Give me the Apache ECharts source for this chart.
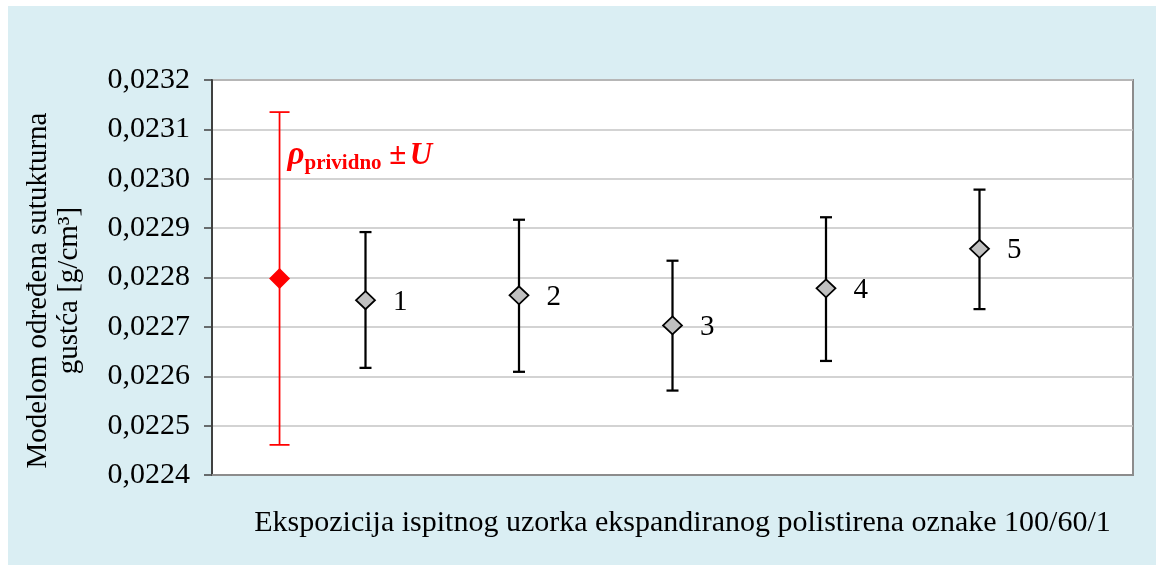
<!DOCTYPE html>
<html>
<head>
<meta charset="utf-8">
<script src="https://cdn.jsdelivr.net/npm/echarts@6/dist/echarts.min.js"></script>
<style>
  html, body { margin: 0; padding: 0; background: #ffffff; }
  #wrap { position: relative; width: 1156px; height: 565px; background: #ffffff; }
  #chart { position: absolute; left: 8px; top: 6px; width: 1148px; height: 559px; background: #DAEEF3; }
</style>
</head>
<body>
<div id="wrap"><div id="chart"></div></div>
<script>
// Sample exposures (x position on the hidden value axis) and their labels
const samplePos = [1, 2, 3, 4, 5];
const sampleLabels = ['1', '2', '3', '4', '5'];
// Model-determined structural density per exposure [g/cm3]
const sampleMean = [0.022754, 0.022764, 0.022703, 0.022778, 0.022858];
const sampleLow  = [0.022617, 0.022609, 0.022571, 0.022631, 0.022736];
const sampleHigh = [0.022892, 0.022917, 0.022834, 0.022922, 0.022978];

// Apparent density with its expanded uncertainty
const refPos = 0.44;
const refMean = 0.022798;
const refU = 0.000337;

// Y-axis range and tick step
const yMin = 0.0224;
const yMax = 0.0232;
const yStep = 0.0001;

const FONT = '"Liberation Serif", "Times New Roman", serif';

const chart = echarts.init(document.getElementById('chart'), null, { renderer: 'canvas' });

function errorBarRenderer(color, lineW, capW) {
  return function (params, api) {
    const x = api.value(0);
    const top = api.coord([x, api.value(2)]);
    const bot = api.coord([x, api.value(1)]);
    const style = { stroke: color, lineWidth: lineW };
    return {
      type: 'group',
      children: [
        { type: 'line', shape: { x1: top[0], y1: top[1], x2: bot[0], y2: bot[1] }, style },
        { type: 'line', shape: { x1: top[0] - capW / 2, y1: top[1], x2: top[0] + capW / 2, y2: top[1] }, style },
        { type: 'line', shape: { x1: bot[0] - capW / 2, y1: bot[1], x2: bot[0] + capW / 2, y2: bot[1] }, style }
      ]
    };
  };
}

const sampleBars = samplePos.map((x, i) => [x, sampleLow[i], sampleHigh[i]]);
const samplePoints = samplePos.map((x, i) => ({ value: [x, sampleMean[i]], name: sampleLabels[i] }));

chart.setOption({
  backgroundColor: 'transparent',
  animation: false,
  grid: {
    left: 204, top: 74, right: 23, bottom: 90,
    show: true,
    backgroundColor: '#ffffff',
    borderColor: '#8C8C8C',
    borderWidth: 2
  },
  xAxis: {
    type: 'value',
    min: 0, max: 6,
    name: 'Ekspozicija ispitnog uzorka ekspandiranog polistirena oznake 100/60/1',
    nameLocation: 'middle',
    nameGap: 33,
    nameTextStyle: { fontFamily: FONT, fontSize: 30, color: '#000', padding: [0, 0, 0, 20] },
    axisLine: { show: true, lineStyle: { color: '#8C8C8C', width: 2 } },
    axisTick: { show: false },
    axisLabel: { show: false },
    splitLine: { show: false }
  },
  yAxis: {
    type: 'value',
    min: yMin, max: yMax, interval: yStep,
    name: 'Modelom određena sutukturna\ngustća [g/cm³]',
    nameLocation: 'middle',
    nameRotate: 90,
    nameGap: 127,
    nameTextStyle: { fontFamily: FONT, fontSize: 29, color: '#000', lineHeight: 31, align: 'center', padding: [0, 0, 0, -26] },
    axisLine: { show: true, lineStyle: { color: '#404040', width: 2 } },
    axisTick: { show: true, inside: false, length: 8, lineStyle: { color: '#404040', width: 1.5 } },
    axisLabel: {
      fontFamily: FONT, fontSize: 30, color: '#000', margin: 22,
      formatter: v => v.toFixed(4).replace('.', ',')
    },
    splitLine: { show: true, lineStyle: { color: '#C4C4C4', width: 1.5 } }
  },
  series: [
    {
      type: 'custom',
      name: 'ref-bar',
      renderItem: errorBarRenderer('#FF0000', 1.75, 20),
      data: [[refPos, refMean - refU, refMean + refU]],
      encode: { x: 0, y: [1, 2] },
      z: 2
    },
    {
      type: 'scatter',
      name: 'ref',
      data: [[refPos, refMean]],
      symbol: 'diamond',
      symbolSize: [21, 21],
      itemStyle: { color: '#FF0000', opacity: 1 },
      label: {
        show: true,
        position: 'inside',
        align: 'left',
        verticalAlign: 'middle',
        offset: [8, -123],
        formatter: '{rho|ρ}{sub|prividno}{pm| ±} {u|U}',
        rich: {
          rho: { fontFamily: FONT, fontSize: 33, fontWeight: 'bold', fontStyle: 'italic', color: '#FF0000', verticalAlign: 'middle', lineHeight: 36 },
          sub: { fontFamily: FONT, fontSize: 21, fontWeight: 'bold', color: '#FF0000', verticalAlign: 'bottom', lineHeight: 22, padding: [0, 0, -1, 0] },
          pm: { fontFamily: FONT, fontSize: 31, fontWeight: 'bold', color: '#FF0000', verticalAlign: 'middle', lineHeight: 36 },
          u: { fontFamily: FONT, fontSize: 31, fontWeight: 'bold', fontStyle: 'italic', color: '#FF0000', verticalAlign: 'middle', lineHeight: 36 }
        }
      },
      z: 3
    },
    {
      type: 'custom',
      name: 'sample-bars',
      renderItem: errorBarRenderer('#000000', 2.25, 12),
      data: sampleBars,
      encode: { x: 0, y: [1, 2] },
      z: 2
    },
    {
      type: 'scatter',
      name: 'samples',
      data: samplePoints,
      symbol: 'diamond',
      symbolSize: [19, 18],
      itemStyle: { color: '#C0C0C0', borderColor: '#000000', borderWidth: 1.75, opacity: 1 },
      label: {
        show: true,
        position: 'right',
        distance: 17,
        formatter: p => p.name,
        fontFamily: FONT, fontSize: 29, color: '#000',
        offset: [0, 2]
      },
      z: 3
    }
  ]
});
</script>
</body>
</html>
